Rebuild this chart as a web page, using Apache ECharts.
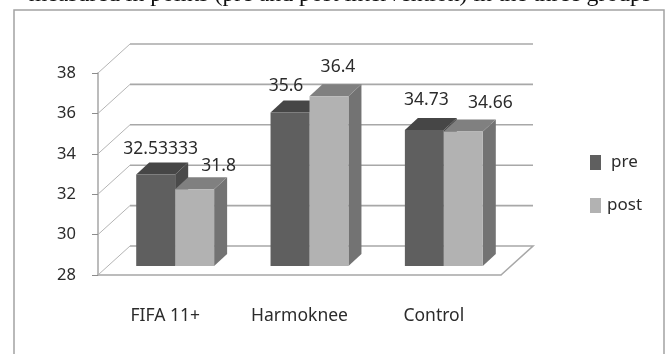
<!DOCTYPE html>
<html>
<head>
<meta charset="utf-8">
<style>
  html, body { margin: 0; padding: 0; background: #fff; }
  #main { width: 670px; height: 354px; filter: blur(0.45px); }
</style>
<script src="https://cdn.jsdelivr.net/npm/echarts@6/dist/echarts.min.js"></script>
</head>
<body>
<div id="main"></div>
<script>
const categories = ['FIFA 11+', 'Harmoknee', 'Control'];
const preValues = [32.53333, 35.6, 34.73];
const postValues = [31.8, 36.4, 34.66];
const yTicks = [28, 30, 32, 34, 36, 38];

// fake 3d look, all in pixels
const wallDx = 32, wallDy = 29;
const barDx = 10, barDy = 9;
const sideDx = 13, sideDy = 12;
// label nudges next to each bar, [dx, dy] from the top middle of the front face
const preNudge = [[5, -25], [-4, -26], [2, -30]];
const postNudge = [[24, -23], [9, -29], [27, -28]];
const font = '"Noto Sans", sans-serif';

function barItem(values, nudge, colors, left) {
  return function (params, api) {
    const i = params.dataIndex;
    const v = values[i];
    const top = api.coord([i, v]);
    const base = api.coord([i, yTicks[0]]);
    const w = api.size([1, 0])[0] * 0.29;
    const x0 = top[0] + barDx - (left ? w : 0);
    const x1 = x0 + w;
    const y0 = top[1] - barDy;
    const y1 = base[1] - barDy;
    return {
      type: 'group',
      children: [
        { type: 'polygon', shape: { points: [[x1, y0], [x1 + sideDx, y0 - sideDy], [x1 + sideDx, y1 - sideDy], [x1, y1]] }, style: { fill: colors.side } },
        { type: 'polygon', shape: { points: [[x0, y0], [x0 + sideDx, y0 - sideDy], [x1 + sideDx, y0 - sideDy], [x1, y0]] }, style: { fill: colors.top } },
        { type: 'rect', shape: { x: x0, y: y0, width: w, height: y1 - y0 }, style: { fill: colors.front } },
        { type: 'text', z2: 10, style: { text: String(v), x: (x0 + x1) / 2 + nudge[i][0], y: y0 + nudge[i][1], align: 'center', verticalAlign: 'middle', font: '17.5px ' + font, fill: '#2b2b2b' } }
      ]
    };
  };
}

function wallItem(params, api) {
  const v = yTicks[params.dataIndex];
  const y = api.coord([0, v])[1];
  const sys = params.coordSys;
  const pts = [[sys.x, y], [sys.x + wallDx, y - wallDy], [sys.x + sys.width + wallDx, y - wallDy]];
  if (v === yTicks[0]) pts.push([sys.x + sys.width, y]);
  const lines = [
    { type: 'polyline', shape: { points: pts.slice(0, 2) }, style: { stroke: '#b4b4b4', lineWidth: 1, fill: null } },
    { type: 'polyline', shape: { points: pts.slice(1) }, style: { stroke: '#a8a8a8', lineWidth: 1.6, fill: null } }
  ];
  return { type: 'group', children: lines };
}

const chart = echarts.init(document.getElementById('main'), null, { renderer: 'canvas' });
chart.setOption({
  animation: false,
  grid: { left: 98, right: 169, top: 73, bottom: 79 },
  graphic: [
    { type: 'rect', shape: { x: 14, y: 10, width: 650, height: 400 }, style: { fill: null, stroke: '#a3a3a3', lineWidth: 1.5 }, silent: true },
    { type: 'text', style: { text: 'measured in points (pre and post intervention) in the three groups', x: 340, y: -5, align: 'center', verticalAlign: 'middle', font: '23.8px "Liberation Serif", serif', fill: '#111' } }
  ],
  legend: {
    orient: 'vertical',
    left: 590,
    top: 154,
    padding: 0,
    icon: 'rect',
    itemWidth: 11,
    itemHeight: 15,
    itemGap: 26,
    data: ['pre', 'post'],
    formatter: name => name === 'pre' ? '{a|pre}' : '{b|post}',
    textStyle: {
      rich: {
        a: { fontFamily: font, fontSize: 17, lineHeight: 20, color: '#2b2b2b', padding: [0, 0, 0, 5] },
        b: { fontFamily: font, fontSize: 17, lineHeight: 20, color: '#2b2b2b', padding: [0, 0, 0, 1] }
      }
    }
  },
  xAxis: {
    type: 'category',
    data: categories,
    axisLine: { lineStyle: { color: '#a6a6a6', width: 1.5 } },
    axisTick: { length: 9, lineStyle: { color: '#8c8c8c', width: 1 } },
    axisLabel: { margin: 32, fontFamily: font, fontSize: 17.5, color: '#2b2b2b' },
    splitLine: { show: false }
  },
  yAxis: {
    type: 'value',
    min: 28,
    max: 38,
    interval: 2,
    axisLine: { show: true, lineStyle: { color: '#a6a6a6', width: 1.5 } },
    axisTick: { show: true, length: 6, lineStyle: { color: '#8c8c8c', width: 1 } },
    axisLabel: { margin: 22, fontFamily: font, fontSize: 16.5, color: '#2b2b2b', padding: [2, 0, 0, 0] },
    splitLine: { show: false }
  },
  series: [
    { type: 'custom', name: 'walls', silent: true, data: yTicks, renderItem: wallItem, z: 1 },
    {
      type: 'custom', name: 'pre', data: preValues, z: 2, itemStyle: { color: '#5f5f5f' },
      renderItem: barItem(preValues, preNudge, { front: '#5f5f5f', top: '#464646', side: '#4a4a4a' }, true)
    },
    {
      type: 'custom', name: 'post', data: postValues, z: 3, itemStyle: { color: '#b2b2b2' },
      renderItem: barItem(postValues, postNudge, { front: '#b2b2b2', top: '#808080', side: '#737373' }, false)
    }
  ]
});
</script>
</body>
</html>
